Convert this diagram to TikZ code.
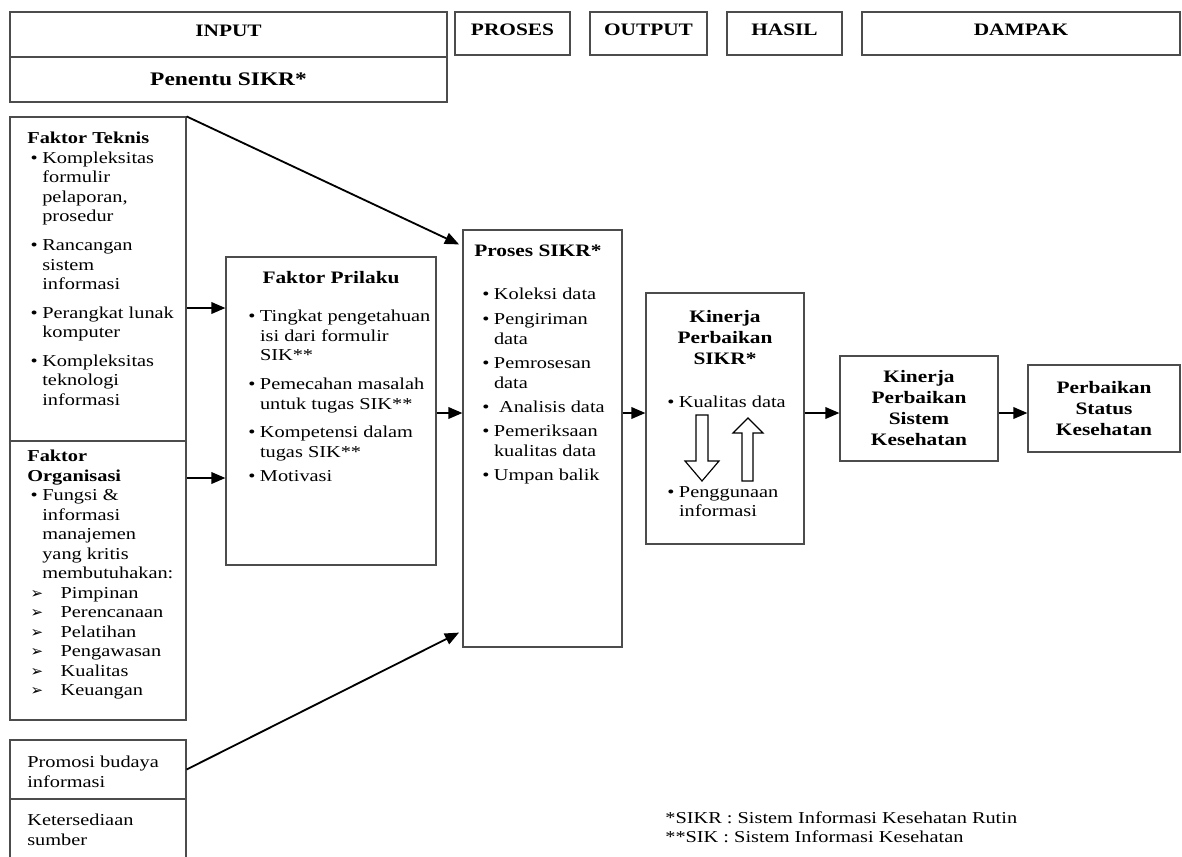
\documentclass[tikz,border=0pt]{standalone}
\usepackage{fontspec}
\setmainfont{Liberation Serif}[FakeStretch=1.22]
\newfontfamily\dejavu{DejaVu Sans}
\usetikzlibrary{arrows.meta,fit}
\newcommand{\itm}{\makebox[7pt][l]{\textbullet}}
\newcommand{\ind}{\hspace*{7pt}}
\newcommand{\arw}{\makebox[18pt][l]{{\dejavu\small ➢}}}
\begin{document}
\begin{tikzpicture}[x=0.6pt, y=-0.6pt,
    box/.style={draw=black!70, line width=0.7pt, inner sep=0pt},
    txt/.style={align=left, inner sep=0pt, font=\fontsize{10}{11.7}\selectfont},
    hdr/.style={align=center, inner sep=0pt, font=\fontsize{10.5}{12.6}\selectfont\bfseries},
    arr/.style={line width=1.1pt, -{Triangle[length=8.5pt,width=7pt]}}]
  \useasboundingbox (0,0) rectangle (1182,856);
  % top row
  \node [box, fit={(10,12) (447,57)}] (input) {};
  \node [box, fit={(10,57) (447,102)}] (penentu) {};
  \node [box, fit={(455,12) (570,55)}] (prosesH) {};
  \node [box, fit={(590,12) (707,55)}] (outputH) {};
  \node [box, fit={(727,12) (842,55)}] (hasilH) {};
  \node [box, fit={(862,12) (1180,55)}] (dampakH) {};
  \node [hdr] (inputT) at ([yshift=2pt]input.center) {INPUT};
  \node [hdr, font=\fontsize{11.5}{13}\selectfont\bfseries] (penentuT) at (penentu.center) {Penentu SIKR*};
  \node [hdr] (prosesHT) at ([yshift=2pt]prosesH.center) {PROSES};
  \node [hdr] (outputHT) at ([yshift=2pt]outputH.center) {OUTPUT};
  \node [hdr] (hasilHT) at ([yshift=2pt]hasilH.center) {HASIL};
  \node [hdr] (dampakHT) at ([yshift=2pt]dampakH.center) {DAMPAK};
  % left column
  \node [box, fit={(10,117) (186,441)}] (teknis) {};
  \node [box, fit={(10,441) (186,720)}] (organisasi) {};
  \node [box, fit={(10,740) (186,799)}] (promosi) {};
  \node [box, fit={(10,799) (186,880)}] (sumber) {};
  \node [txt, anchor=north west] (teknisT) at (27,132) {\textbf{Faktor Teknis}\\
    \hspace*{2pt}\itm Kompleksitas\\ \hspace*{2pt}\ind formulir\\ \hspace*{2pt}\ind pelaporan,\\ \hspace*{2pt}\ind prosedur\\[5.5pt]
    \hspace*{2pt}\itm Rancangan\\ \hspace*{2pt}\ind sistem\\ \hspace*{2pt}\ind informasi\\[5.5pt]
    \hspace*{2pt}\itm Perangkat lunak\\ \hspace*{2pt}\ind komputer\\[5.5pt]
    \hspace*{2pt}\itm Kompleksitas\\ \hspace*{2pt}\ind teknologi\\ \hspace*{2pt}\ind informasi};
  \node [txt, anchor=north west] (organisasiT) at (27,450) {\textbf{Faktor}\\ \textbf{Organisasi}\\
    \hspace*{2pt}\itm Fungsi \&\\ \hspace*{2pt}\ind informasi\\ \hspace*{2pt}\ind manajemen\\
    \hspace*{2pt}\ind yang kritis\\ \hspace*{2pt}\ind membutuhakan:\\
    \hspace*{2pt}\arw Pimpinan\\ \hspace*{2pt}\arw Perencanaan\\ \hspace*{2pt}\arw Pelatihan\\
    \hspace*{2pt}\arw Pengawasan\\ \hspace*{2pt}\arw Kualitas\\ \hspace*{2pt}\arw Keuangan};
  \node [txt, anchor=north west] (promosiT) at (27,756) {Promosi budaya\\ informasi};
  \node [txt, anchor=north west] (sumberT) at (27,814) {Ketersediaan\\ sumber};
  % middle
  \node [box, fit={(226,257) (436,565)}] (prilaku) {};
  \node [hdr, anchor=north] (prilakuH) at (331,271) {Faktor Prilaku};
  \node [txt, anchor=north west] (prilakuT) at (248,310) {\itm Tingkat pengetahuan\\ \ind isi dari formulir\\ \ind SIK**\\[5.5pt]
    \itm Pemecahan masalah\\ \ind untuk tugas SIK**\\[5.5pt]
    \itm Kompetensi dalam\\ \ind tugas SIK**\\[3pt]
    \itm Motivasi};
  \node [box, fit={(463,230) (622,647)}] (proses) {};
  \node [hdr, anchor=north west] (prosesT) at (474,245) {Proses SIKR*};
  \node [txt, anchor=north west, font=\fontsize{10}{12}\selectfont] (prosesL) at (482,288) {\itm Koleksi data\\[2.5pt]
    \itm Pengiriman\\ \ind data\\[2.5pt] \itm Pemrosesan\\ \ind data\\[2.5pt]
    \itm \ Analisis data\\[2.5pt] \itm Pemeriksaan\\ \ind kualitas data\\[2.5pt] \itm Umpan balik};
  \node [box, fit={(646,293) (804,544)}] (kinerja) {};
  \node [hdr, anchor=north] (kinerjaT) at (725,310) {Kinerja\\ Perbaikan\\ SIKR*};
  \node [txt, anchor=north west] (kualitasT) at (667,396) {\itm Kualitas data};
  \node [txt, anchor=north west] (penggunaanT) at (667,486) {\itm Penggunaan\\ \ind informasi};
  \draw [line width=0.7pt, fill=white] (696,415) -- (708,415) -- (708,461) -- (719,461) -- (702,481) -- (685,461) -- (696,461) -- cycle;
  \draw [line width=0.7pt, fill=white] (742,481) -- (753,481) -- (753,433) -- (763,433) -- (748,418) -- (733,433) -- (742,433) -- cycle;
  % right
  \node [box, fit={(840,356) (998,461)}] (sistem) {};
  \node [hdr] (sistemT) at (sistem.center) {Kinerja\\ Perbaikan\\ Sistem\\ Kesehatan};
  \node [box, fit={(1028,365) (1180,452)}] (status) {};
  \node [hdr] (statusT) at (status.center) {Perbaikan\\ Status\\ Kesehatan};
  \node [txt, anchor=north west] (catatan) at (665,811) {*SIKR : Sistem Informasi Kesehatan Rutin\\ **SIK : Sistem Informasi Kesehatan};
  % arrows
  \coordinate (r1) at (0,308);
  \coordinate (r2) at (0,478);
  \coordinate (r3) at (0,413);
  \draw [arr] (teknis.north east) -- ([shift={(-2pt,-9pt)}]proses.north west);
  \draw [arr] (teknis.east |- r1) -- (prilaku.west |- r1);
  \draw [arr] (organisasi.east |- r2) -- (prilaku.west |- r2);
  \draw [arr] (promosi.east) -- ([shift={(-2pt,9pt)}]proses.south west);
  \draw [arr] (prilaku.east |- r3) -- (proses.west |- r3);
  \draw [arr] (proses.east |- r3) -- (kinerja.west |- r3);
  \draw [arr] (kinerja.east |- r3) -- (sistem.west |- r3);
  \draw [arr] (sistem.east |- r3) -- (status.west |- r3);
\end{tikzpicture}
\end{document}
